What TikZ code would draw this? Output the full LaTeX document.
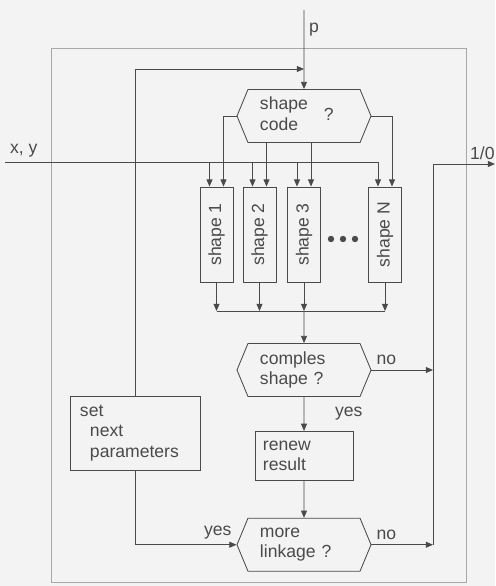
\documentclass[tikz,border=0pt]{standalone}
\usepackage{fontspec}
\setmainfont{Liberation Sans}
\usepackage{graphicx}
\usepackage{tikz}
\usetikzlibrary{
  arrows.meta,
  positioning,
  shapes.symbols
}
\definecolor{LineGray}{HTML}{4A4A4A}
\definecolor{FrameGray}{HTML}{A8A8A8}
\definecolor{PaperGray}{HTML}{F3F3F3}
\tikzset{
  box/.style={
    draw=LineGray,
    line width=0.6pt,
    align=left
  },
  decision/.style={
    box,
    signal,
    signal to=west and east,
    signal pointer angle=135,
    minimum width=3.35cm,
    minimum height=1.325cm,
    text width=2.2cm
  },
  process/.style={
    box,
    inner ysep=0pt
  },
  shapebox/.style={
    box,
    align=center,
    inner sep=0pt,
    minimum width=0.825cm,
    minimum height=2.375cm
  },
  wire/.style={
    draw=LineGray,
    line width=0.6pt
  },
  flow/.style={
    wire,
    -{Triangle[length=1.8mm,width=1.5mm]}
  }
}

\begin{document}
\begin{tikzpicture}[
  x=0.025cm,
  y=-0.025cm,
  text=LineGray,
  font=\fontsize{12.5}{14.5}\selectfont
]

  \fill[PaperGray] (0,0) rectangle (495,586);
  \useasboundingbox (0,0) rectangle (495,586);
  \draw[FrameGray, line width=0.5pt] (51,48) rectangle (466,582);

  \node[
    decision
  ] (code) at (304,116) {
    \begin{tabular}{@{}l@{}}shape\\code\end{tabular}\hspace{0.4cm}?
  };

  \foreach \name/\xpos/\txt in {s1/216.5/shape 1, s2/259.5/shape 2, s3/304/shape 3, sN/385/shape N}
    \node[shapebox] (\name) at (\xpos,234.5) {\rotatebox{90}{\txt}};

  \foreach \xdot in {331,343,355}
    \fill[LineGray] (\xdot,239) circle (0.08cm);

  \node[
    decision
  ] (complex) at (304,370) {
    comples\\
    shape ?
  };

  \node[
    process,
    below=0.85cm of complex,
    text width=2.05cm,
    inner xsep=0.2cm,
    minimum height=1.225cm
  ] (renew) {
    renew\\
    result
  };

  \node[
    decision,
    below=0.925cm of renew
  ] (linkage) {
    more\\
    linkage ?
  };

  \node[
    process,
    text width=2.75cm,
    inner xsep=0.25cm,
    minimum height=1.85cm
  ] (setpar) at (135,433) {
    set\\
    \hspace*{0.25cm}next\\
    \hspace*{0.25cm}parameters
  };

  \coordinate (pin) at (304,10);
  \coordinate (join) at (304,69);
  \coordinate (xyin) at (5,162);
  \coordinate (merge) at (304,311);
  \coordinate (bus) at (433,164);
  \coordinate (out) at (495,164);

  % parameters in
  \draw[flow] (pin) -- node[right, pos=0.25] {p} (code);
  \draw[flow] (setpar.north) |- (join);

  % point x, y to every shape
  \draw[flow] (xyin) -| node[above right, pos=0] {x, y} ([xshift=-0.175cm]sN.north);
  \foreach \name in {s1,s2,s3}
    \draw[flow] ([xshift=-0.175cm]\name.north |- xyin) -- ([xshift=-0.175cm]\name.north);

  % shape code selects
  \draw[flow] (code.west) -| ([xshift=0.175cm]s1.north);
  \foreach \name in {s2,s3}
    \draw[flow] ([xshift=0.175cm]\name.north |- code.south) -- ([xshift=0.175cm]\name.north);
  \draw[flow] (code.east) -| ([xshift=0.175cm]sN.north);

  \foreach \name in {s1,s2,s3,sN}
    \draw[flow] (\name.south) -- (\name.south |- merge);
  \draw[wire] (s1.south |- merge) -- (sN.south |- merge);
  \draw[flow] (merge) -- (complex);

  \draw[flow] (complex) -- node[right, xshift=0.65cm] {yes} (renew);
  \draw[flow] (complex.east) -- node[above right, pos=0] {no} (complex.east -| bus);
  \draw[flow] (renew) -- (linkage);
  \draw[flow] (linkage.east) -- node[above right, pos=0] {no} (linkage.east -| bus);
  \draw[flow] (setpar.south) |- node[above left, pos=1] {yes} (linkage.west);

  % result out
  \draw[flow] (linkage.east -| bus) -- (bus) -- node[above left, pos=1, inner xsep=0pt, inner ysep=3pt] {1/0} (out);

\end{tikzpicture}
\end{document}
